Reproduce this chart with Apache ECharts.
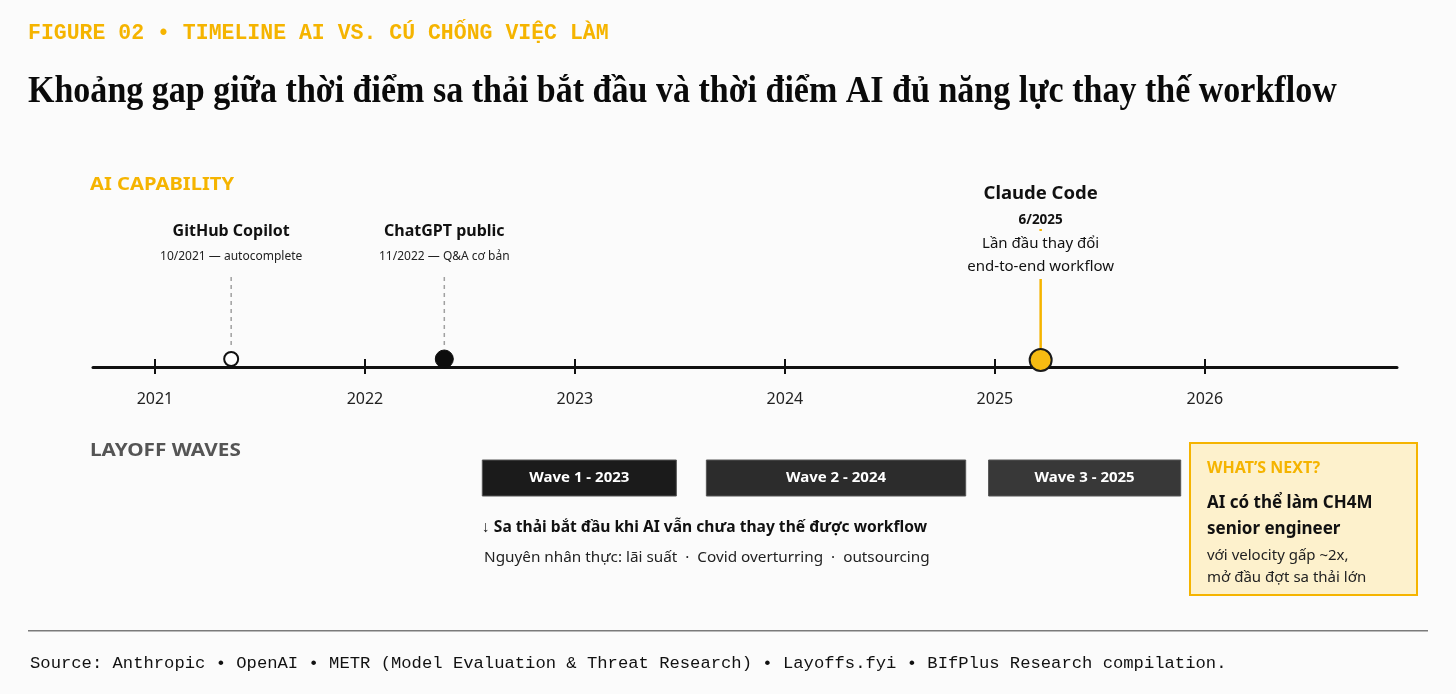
<!DOCTYPE html>
<html>
<head>
<meta charset="utf-8">
<script src="https://cdn.jsdelivr.net/npm/echarts@6/dist/echarts.min.js"></script>
<style>
  html, body { margin: 0; padding: 0; background: #fbfbfb; }
  #timeline { width: 1456px; height: 694px; }
</style>
</head>
<body>
<div id="timeline"></div>
<script>
'use strict'

// timeline scale and ticks
var axisStart = 2020.705;
var axisEnd = 2026.915;
var tickYears = [2021, 2022, 2023, 2024, 2025, 2026];

// AI capability milestones (position on the timeline as drawn)
var milestoneNames = ['GitHub Copilot', 'ChatGPT public', 'Claude Code'];
var milestoneDates = ['10/2021', '11/2022', '6/2025'];
var milestoneNotes = ['autocomplete', 'Q&A cơ bản', 'Lần đầu thay đổi\nend-to-end workflow'];
var milestoneYears = [2021.363, 2022.378, 2025.218];

// layoff waves
var waveNames = ['Wave 1 - 2023', 'Wave 2 - 2024', 'Wave 3 - 2025'];
var waveStarts = [2022.559, 2023.626, 2024.970];
var waveEnds = [2023.483, 2024.861, 2025.885];

var SANS = '"Noto Sans", "Open Sans", sans-serif';
var MONO = '"Liberation Mono", "DejaVu Sans Mono", monospace';
var BG = '#fbfbfb';
var GOLD = '#f5b400';

var timeline_chart = echarts.init(document.getElementById('timeline'), null, { renderer: 'canvas' });

var markerStyles = [
    { symbolSize: 14, symbolOffset: [0, -8], itemStyle: { color: '#ffffff', borderColor: '#111', borderWidth: 2, opacity: 1 } },
    { symbolSize: 18, symbolOffset: [0, -8], itemStyle: { color: '#0d0d0d', borderColor: '#0d0d0d', borderWidth: 1, opacity: 1 } },
    { symbolSize: 22, symbolOffset: [0, -7], itemStyle: { color: '#f7bb12', borderColor: '#1a1a1a', borderWidth: 2, opacity: 1 } }
];

function renderMilestone(params, api) {
    var i = params.dataIndex;
    var p = api.coord([api.value(0), 0]);
    var x = p[0], y0 = p[1];
    if (i < 2) {
        return {
            type: 'group',
            children: [
                { type: 'line', shape: { x1: x, y1: y0 - 90, x2: x, y2: y0 - 19 },
                  style: { stroke: '#a0a0a0', lineWidth: 1.5, lineDash: [4, 4] } },
                { type: 'text', x: x, y: y0 - 136,
                  style: { text: milestoneNames[i], font: 'bold 16px ' + SANS, fill: '#111', align: 'center', verticalAlign: 'middle' } },
                { type: 'text', x: x, y: y0 - 110,
                  style: { text: milestoneDates[i] + ' — ' + milestoneNotes[i], font: '12px ' + SANS, fill: '#222', align: 'center', verticalAlign: 'middle' } }
            ]
        };
    }
    return {
        type: 'group',
        children: [
            { type: 'line', shape: { x1: x, y1: y0 - 138, x2: x, y2: y0 - 19 },
              style: { stroke: GOLD, lineWidth: 2.5 } },
            { type: 'text', x: x, y: y0 - 173,
              style: { text: milestoneNames[i], font: 'bold 18.5px ' + SANS, fill: '#111', align: 'center', verticalAlign: 'middle' } },
            { type: 'text', x: x, y: y0 - 147,
              style: { text: milestoneDates[i], font: 'bold 13.5px ' + SANS, fill: '#111', align: 'center', verticalAlign: 'middle' } },
            { type: 'text', x: x, y: y0 - 112,
              style: { text: milestoneNotes[i], font: '15px ' + SANS, fill: '#111', align: 'center', verticalAlign: 'middle',
                       lineHeight: 23, backgroundColor: BG, padding: [1, 4] } }
        ]
    };
}

var waveColors = ['#1b1b1b', '#2c2c2c', '#383838'];

function renderWave(params, api) {
    var i = params.dataIndex;
    var a = api.coord([api.value(0), 1]);
    var b = api.coord([api.value(1), 0]);
    return {
        type: 'group',
        children: [
            { type: 'rect', shape: { x: a[0], y: a[1], width: b[0] - a[0], height: b[1] - a[1] },
              style: { fill: waveColors[i], stroke: '#555', lineWidth: 1 } },
            { type: 'text', x: (a[0] + b[0]) / 2, y: (a[1] + b[1]) / 2,
              style: { text: waveNames[i], font: 'bold 15px ' + SANS, fill: '#ffffff', align: 'center', verticalAlign: 'middle' } }
        ]
    };
}

var option = {
    backgroundColor: BG,
    animation: false,
    grid: [
        { left: 93, right: 59, top: 100, height: 267 },
        { left: 93, right: 59, top: 460, height: 36 }
    ],
    xAxis: [
        {
            gridIndex: 0, type: 'value', min: axisStart, max: axisEnd,
            axisLine: { show: true, lineStyle: { color: '#111', width: 3 } },
            axisTick: { show: true, customValues: tickYears, length: 7, lineStyle: { color: '#111', width: 2 } },
            axisLabel: { show: true, customValues: tickYears, margin: 24, fontSize: 16, color: '#222', fontFamily: SANS,
                         formatter: function (v) { return String(v); } },
            splitLine: { show: false }
        },
        {
            gridIndex: 0, type: 'value', min: axisStart, max: axisEnd, position: 'bottom',
            axisLine: { show: false },
            axisTick: { show: true, inside: true, customValues: tickYears, length: 8, lineStyle: { color: '#111', width: 2 } },
            axisLabel: { show: false },
            splitLine: { show: false }
        },
        { gridIndex: 1, type: 'value', min: axisStart, max: axisEnd, show: false }
    ],
    yAxis: [
        { gridIndex: 0, type: 'value', min: 0, max: 267, show: false },
        { gridIndex: 1, type: 'value', min: 0, max: 1, show: false }
    ],
    series: [
        {
            name: 'AI milestone labels',
            type: 'custom',
            xAxisIndex: 0, yAxisIndex: 0,
            renderItem: renderMilestone,
            data: milestoneYears.map(function (v, i) { return [v, i]; }),
            z: 3
        },
        {
            name: 'AI milestones',
            type: 'scatter',
            xAxisIndex: 0, yAxisIndex: 0,
            symbol: 'circle',
            data: milestoneYears.map(function (v, i) {
                return {
                    value: [v, 0],
                    symbolSize: markerStyles[i].symbolSize,
                    symbolOffset: markerStyles[i].symbolOffset,
                    itemStyle: markerStyles[i].itemStyle
                };
            }),
            z: 10
        },
        {
            name: 'Layoff waves',
            type: 'custom',
            xAxisIndex: 2, yAxisIndex: 1,
            renderItem: renderWave,
            data: waveStarts.map(function (s, i) { return [s, waveEnds[i]]; })
        }
    ],
    graphic: [
        { type: 'text', left: 28, top: 23,
          style: { text: 'FIGURE 02 • TIMELINE AI VS. CÚ CHỐNG VIỆC LÀM', font: 'bold 21.5px ' + MONO, fill: GOLD } },
        { type: 'text', x: 28, y: 73, scaleX: 0.895,
          style: { text: 'Khoảng gap giữa thời điểm sa thải bắt đầu và thời điểm AI đủ năng lực thay thế workflow',
                   font: 'bold 38px "Liberation Serif", "DejaVu Serif", serif', fill: '#0a0a0a' } },
        { type: 'text', x: 90, y: 176, scaleX: 1.12,
          style: { text: 'AI CAPABILITY', font: 'bold 18px ' + SANS, fill: GOLD } },
        { type: 'text', x: 90, y: 442, scaleX: 1.15,
          style: { text: 'LAYOFF WAVES', font: 'bold 18px ' + SANS, fill: '#555' } },
        { type: 'text', left: 482, top: 520,
          style: { text: '↓ Sa thải bắt đầu khi AI vẫn chưa thay thế được workflow', font: 'bold 15.6px ' + SANS, fill: '#111' } },
        { type: 'text', left: 484, top: 550,
          style: { text: 'Nguyên nhân thực: lãi suất  ·  Covid overturring  ·  outsourcing', font: '15.3px ' + SANS, fill: '#222' } },
        { type: 'rect', left: 1189, top: 442,
          shape: { width: 227, height: 152 },
          style: { fill: '#fdf1cc', stroke: GOLD, lineWidth: 2 } },
        { type: 'text', left: 1207, top: 460,
          style: { text: 'WHAT’S NEXT?', font: 'bold 16px ' + SANS, fill: GOLD } },
        { type: 'text', left: 1207, top: 490,
          style: { text: 'AI có thể làm CH4M\nsenior engineer', font: 'bold 17px ' + SANS, fill: '#111', lineHeight: 26 } },
        { type: 'text', left: 1207, top: 545,
          style: { text: 'với velocity gấp ~2x,\nmở đầu đợt sa thải lớn', font: '15px ' + SANS, fill: '#222', lineHeight: 22 } },
        { type: 'rect', left: 28, top: 630,
          shape: { width: 1400, height: 1.5 },
          style: { fill: '#7a7a7a' } },
        { type: 'text', left: 30, top: 655,
          style: { text: 'Source: Anthropic • OpenAI • METR (Model Evaluation & Threat Research) • Layoffs.fyi • BIfPlus Research compilation.',
                   font: '17.2px ' + MONO, fill: '#111' } }
    ]
};

timeline_chart.setOption(option);
</script>
</body>
</html>
